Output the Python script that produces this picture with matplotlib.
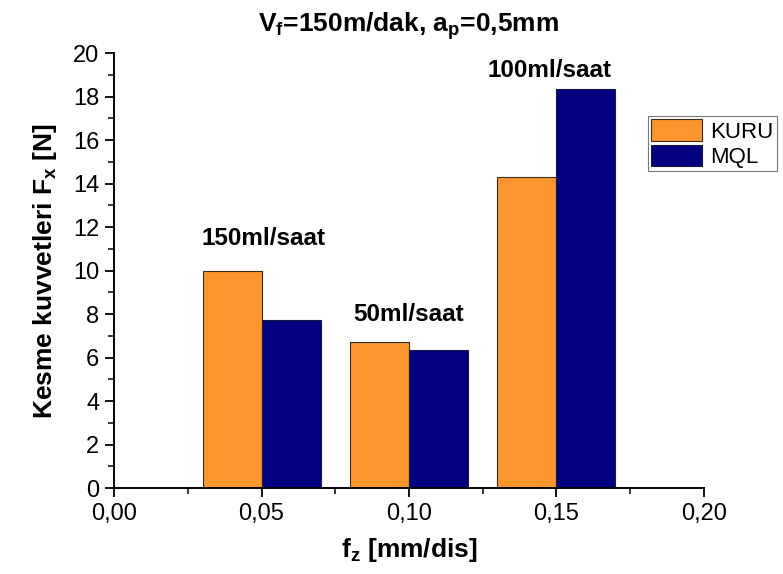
import numpy as np
import matplotlib
matplotlib.use("Agg")
import matplotlib.pyplot as plt
from matplotlib.ticker import MultipleLocator, FuncFormatter

plt.rcParams['font.family'] = ['Liberation Sans', 'DejaVu Sans']
plt.rcParams['mathtext.fontset'] = 'custom'
plt.rcParams['mathtext.rm'] = 'Liberation Sans'
plt.rcParams['mathtext.bf'] = 'Liberation Sans:bold'
plt.rcParams['mathtext.it'] = 'Liberation Sans:italic'

# data
feeds = [0.05, 0.10, 0.15]
kuru = [10.0, 6.70, 14.28]
mql = [7.72, 6.34, 18.33]
flow_labels = ['150ml/saat', '50ml/saat', '100ml/saat']
label_x = [0.0508, 0.0997, 0.1475]
label_y = [11.17, 7.7, 18.9]
bar_w = 0.02

fig = plt.figure(figsize=(7.83, 5.74), dpi=100)
ax = fig.add_axes([0.1456, 0.1498, 0.7535, 0.7578])

ax.bar(feeds, kuru, width=-bar_w, align='edge', color='#FB962F',
       edgecolor='#3a2a1a', linewidth=0.8, label='KURU')
ax.bar(feeds, mql, width=bar_w, align='edge', color='#000080',
       edgecolor='#1a1a3a', linewidth=0.8, label='MQL')

for x, y, s in zip(label_x, label_y, flow_labels):
    ax.text(x, y, s, ha='center', va='baseline', fontsize=17.5,
            fontweight='bold')

ax.set_xlim(0, 0.20)
ax.set_ylim(0, 20)
ax.xaxis.set_major_locator(MultipleLocator(0.05))
ax.xaxis.set_minor_locator(MultipleLocator(0.025))
ax.yaxis.set_major_locator(MultipleLocator(2))
ax.yaxis.set_minor_locator(MultipleLocator(1))
ax.xaxis.set_major_formatter(FuncFormatter(lambda v, p: ('%.2f' % v).replace('.', ',')))

ax.spines['top'].set_visible(False)
ax.spines['right'].set_visible(False)
ax.spines['left'].set_linewidth(1.4)
ax.spines['bottom'].set_linewidth(1.4)
ax.tick_params(which='major', direction='out', length=6.5, width=1.3,
               labelsize=17, pad=4)
ax.tick_params(which='minor', direction='out', length=4, width=1.1)

ax.set_xlabel(r'$\mathbf{f_z}$ [mm/dis]', fontsize=19, fontweight='bold', labelpad=8)
ax.set_ylabel(r'Kesme kuvvetleri $\mathbf{F_x}$ [N]', fontsize=19, fontweight='bold',
              labelpad=10)
ax.set_title(r'$\mathbf{V_f}$=150m/dak, $\mathbf{a_p}$=0,5mm', fontsize=19,
             fontweight='bold', pad=15)

leg = ax.legend(loc='upper left', bbox_to_anchor=(0.905, 0.855), fontsize=16,
                frameon=True, fancybox=False, edgecolor='#555555',
                handlelength=2.3, handleheight=1.1, handletextpad=0.35,
                borderpad=0.15, labelspacing=0.1, borderaxespad=0)
leg.get_frame().set_linewidth(0.8)

fig.savefig('out.png', dpi=100)
